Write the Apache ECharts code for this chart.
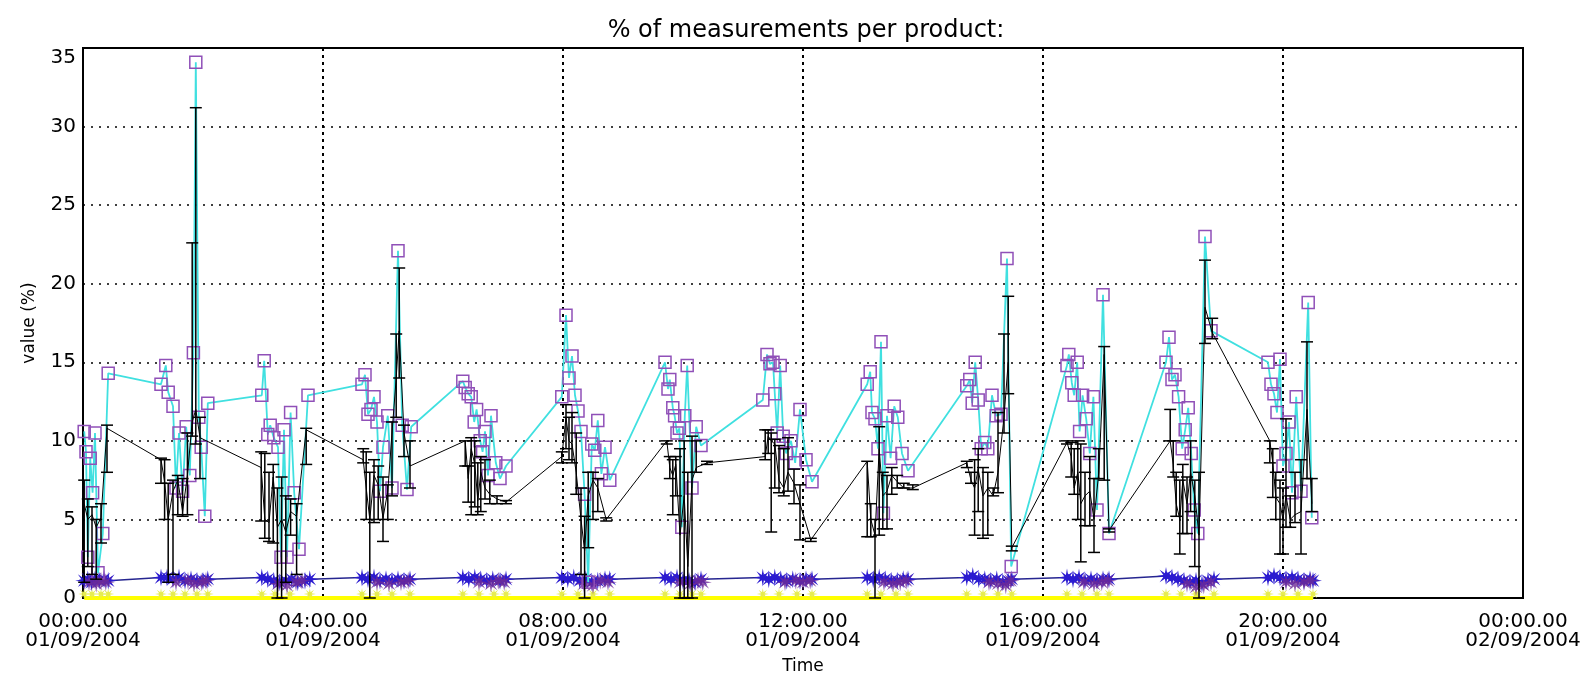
<!DOCTYPE html>
<html>
<head>
<meta charset="utf-8">
<script src="https://cdn.jsdelivr.net/npm/echarts@6/dist/echarts.min.js"></script>
<style>html,body{margin:0;padding:0;background:#fff;}#c{width:1594px;height:679px;}</style>
</head>
<body>
<div id="c"></div>
<script>
// ---- Data (time in hours from 01/09/2004 00:00) ----
const tickLabels = ['00:00.00\n01/09/2004','04:00.00\n01/09/2004','08:00.00\n01/09/2004','12:00.00\n01/09/2004','16:00.00\n01/09/2004','20:00.00\n01/09/2004','00:00.00\n02/09/2004'];
const yTickLabels = ['0','5','10','15','20','25','30','35'];

const cyanTime = [
 0.02,0.05,0.08,0.12,0.16,0.20,0.25,0.33,0.42,
 1.30,1.38,1.42,1.50,1.55,1.60,1.66,1.72,1.78,1.84,1.88,1.93,1.97,2.03,2.08,
 2.98,3.02,3.08,3.12,3.18,3.25,3.30,3.35,3.40,3.46,3.52,3.60,3.75,
 4.65,4.70,4.75,4.80,4.85,4.90,4.95,5.00,5.08,5.15,5.25,5.32,5.40,5.47,
 6.33,6.37,6.42,6.47,6.52,6.56,6.62,6.66,6.70,6.75,6.80,6.88,6.95,7.05,
 7.98,8.05,8.10,8.15,8.20,8.25,8.30,8.36,8.42,8.48,8.53,8.58,8.64,8.70,8.78,
 9.70,9.75,9.78,9.83,9.86,9.90,9.94,9.98,10.03,10.07,10.15,10.22,10.30,
 11.33,11.40,11.45,11.50,11.53,11.57,11.62,11.67,11.72,11.80,11.87,11.95,12.05,12.15,
 13.07,13.12,13.15,13.20,13.25,13.30,13.34,13.40,13.46,13.52,13.58,13.65,13.75,
 14.73,14.78,14.82,14.87,14.92,14.97,15.03,15.08,15.15,15.22,15.30,15.40,15.47,
 16.40,16.43,16.48,16.52,16.57,16.61,16.66,16.72,16.78,16.84,16.90,17.00,17.10,
 18.05,18.10,18.15,18.20,18.26,18.32,18.37,18.42,18.47,18.52,18.58,18.70,18.80,
 19.75,19.80,19.85,19.90,19.95,20.00,20.05,20.10,20.15,20.22,20.30,20.42,20.48
];
const cyanValue = [
 10.6,9.3,2.6,8.9,6.7,10.5,1.6,4.1,14.3,
 13.6,14.8,13.1,12.2,7.0,10.5,6.8,10.9,7.8,15.6,34.1,11.5,9.6,5.2,12.4,
 12.9,15.1,10.4,11.0,10.2,9.6,2.6,10.7,2.6,11.8,6.7,3.1,12.9,
 13.6,14.2,11.7,12.0,12.8,11.2,6.8,9.6,11.6,7.0,22.1,11.0,6.9,10.9,
 13.8,13.4,13.0,12.8,11.2,12.0,10.0,9.3,10.6,7.8,11.6,8.6,7.6,8.4,
 12.8,18.0,14.0,15.4,12.9,11.9,10.6,6.6,1.0,9.8,9.4,11.3,7.9,9.6,7.5,
 15.0,13.3,13.9,12.1,11.6,10.5,10.8,4.5,11.6,14.8,7.0,10.9,9.7,
 12.6,15.5,14.9,15.0,13.0,10.5,14.8,10.3,9.2,10.0,8.6,12.0,8.8,7.4,
 13.6,14.4,11.8,11.4,9.5,16.3,5.4,11.6,8.9,12.2,11.5,9.2,8.1,
 13.5,13.9,12.4,15.0,12.6,9.5,9.9,9.5,12.9,11.6,11.7,21.6,2.0,
 14.8,15.5,13.7,12.9,15.0,10.6,12.9,11.4,9.2,12.8,5.6,19.3,4.1,
 15.0,16.6,13.9,14.2,12.8,9.5,10.7,12.1,9.2,5.6,4.1,23.0,17.0,
 15.0,13.6,13.0,11.8,15.2,8.4,9.2,11.2,6.7,12.8,6.8,18.8,5.1
];

const blackTime = [
 0.02,0.08,0.15,0.22,0.30,0.40,
 1.30,1.36,1.42,1.50,1.58,1.66,1.74,1.82,1.88,1.95,
 2.97,3.03,3.10,3.17,3.24,3.31,3.38,3.46,3.56,3.72,
 4.67,4.72,4.78,4.85,4.92,5.00,5.08,5.15,5.22,5.27,5.35,5.45,
 6.37,6.42,6.47,6.53,6.58,6.63,6.70,6.78,6.90,7.05,
 7.98,8.05,8.10,8.15,8.22,8.30,8.36,8.42,8.50,8.58,8.72,
 9.73,9.78,9.83,9.88,9.95,10.02,10.08,10.15,10.22,10.40,
 11.37,11.42,11.47,11.53,11.60,11.68,11.75,11.85,11.95,12.13,
 13.07,13.13,13.20,13.27,13.33,13.40,13.48,13.57,13.68,13.83,
 14.73,14.80,14.86,14.92,15.00,15.08,15.17,15.25,15.35,15.42,15.48,
 16.40,16.47,16.52,16.58,16.63,16.70,16.78,16.85,16.93,17.02,17.10,
 18.12,18.17,18.22,18.28,18.33,18.40,18.46,18.53,18.60,18.70,18.82,
 19.78,19.83,19.88,19.95,20.00,20.05,20.12,20.20,20.30,20.40,20.48
];
const blackMean = [
 6.0,5.0,5.3,4.5,5.1,10.8,
 8.8,7.4,5.0,6.8,7.5,5.5,7.8,11.2,12.0,10.2,
 8.3,5.0,4.8,7.7,4.5,5.0,4.2,5.5,5.2,10.7,
 8.8,7.0,5.0,7.8,7.2,5.1,6.8,10.5,14.0,17.0,10.5,8.4,
 10.0,7.6,9.5,8.5,6.2,8.0,7.0,6.6,6.3,6.1,
 9.0,11.5,10.0,9.8,8.0,5.0,3.0,6.5,7.5,7.0,5.0,
 10.0,8.3,7.8,8.5,4.0,6.5,2.0,7.5,8.3,8.6,
 9.0,10.3,10.0,9.8,7.5,7.0,8.0,7.3,6.0,3.7,
 8.7,5.0,4.0,9.5,6.5,6.8,7.8,7.4,7.0,7.0,
 8.6,7.5,7.0,8.2,6.5,7.0,6.5,8.0,11.5,15.0,3.2,
 9.9,9.0,7.0,8.0,6.0,6.5,6.8,5.0,8.0,15.5,4.3,
 10.0,8.5,6.0,5.0,7.5,6.0,8.0,6.5,4.0,18.5,16.9,
 10.0,8.6,6.4,6.0,5.0,6.5,5.0,5.3,5.5,12.0,6.0
];
const blackLow = [
 1.0,2.0,1.5,1.2,3.5,8.0,
 7.3,5.0,1.0,1.5,5.3,5.2,5.3,10.3,9.8,7.6,
 4.9,3.8,3.6,3.5,0.0,0.0,1.0,4.0,1.5,8.5,
 8.6,5.0,0.0,4.8,5.0,3.6,5.0,6.5,11.5,14.0,9.0,7.0,
 8.4,6.1,5.3,5.8,5.3,5.5,6.3,6.0,6.0,6.0,
 8.6,9.5,8.8,8.6,6.6,1.5,0.0,3.2,5.0,5.5,4.9,
 9.8,7.6,5.3,6.5,0.0,0.0,0.0,0.0,8.0,8.5,
 8.8,9.2,4.2,7.0,6.7,6.5,6.8,6.0,3.7,3.6,
 3.9,3.9,0.0,4.0,4.4,4.4,6.6,7.0,7.0,6.9,
 8.3,7.3,4.0,5.5,3.8,4.0,6.5,6.7,10.5,13.0,3.0,
 9.8,7.7,6.6,5.0,2.3,4.6,4.6,2.9,7.6,7.5,4.2,
 10.0,7.7,5.2,2.8,4.1,4.1,5.5,2.0,0.0,16.2,16.5,
 8.6,6.4,5.0,2.8,2.8,4.5,4.5,4.8,2.8,7.6,5.5
];
const blackHigh = [
 7.5,6.3,5.8,5.0,6.0,11.0,
 8.9,8.8,7.3,7.5,7.8,7.6,10.5,22.6,31.2,11.5,
 9.3,9.2,8.0,8.5,7.0,7.7,6.5,6.3,6.0,10.8,
 9.5,9.3,8.0,8.8,8.4,7.7,7.2,11.2,16.8,21.0,11.0,10.0,
 10.0,8.4,10.2,10.0,8.6,9.0,8.8,7.5,6.5,6.2,
 9.3,12.3,11.5,11.8,10.5,7.0,5.2,8.0,8.0,7.6,5.1,
 10.0,9.0,8.8,9.0,9.5,10.0,8.0,10.3,10.0,8.7,
 10.7,10.7,10.5,10.1,9.7,9.5,10.2,8.2,7.2,3.8,
 8.7,6.0,5.0,10.9,8.0,7.8,8.3,7.8,7.3,7.2,
 8.7,8.0,8.8,9.5,8.3,8.0,7.0,11.8,16.8,19.2,3.3,
 10.0,9.9,9.5,10.0,9.8,8.0,9.0,7.6,9.5,16.0,4.4,
 12.0,10.0,8.0,7.5,8.5,7.7,10.0,7.5,8.0,21.5,17.8,
 10.0,9.5,8.0,7.5,7.0,11.4,6.5,8.0,8.8,16.3,7.6
];

const blueTime = [
 0.02,0.08,0.14,0.20,0.27,0.35,0.42,
 1.30,1.40,1.50,1.60,1.70,1.80,1.90,2.00,2.08,
 2.98,3.08,3.18,3.28,3.38,3.48,3.58,3.70,3.78,
 4.65,4.75,4.85,4.95,5.05,5.15,5.25,5.35,5.45,
 6.33,6.43,6.53,6.63,6.73,6.83,6.95,7.05,
 7.98,8.08,8.18,8.28,8.38,8.48,8.58,8.70,8.78,
 9.70,9.80,9.90,10.00,10.10,10.20,10.30,
 11.33,11.43,11.53,11.63,11.73,11.83,11.95,12.05,12.15,
 13.07,13.17,13.27,13.37,13.47,13.57,13.67,13.75,
 14.73,14.83,14.93,15.03,15.13,15.23,15.33,15.42,15.48,
 16.40,16.50,16.60,16.70,16.80,16.90,17.00,17.10,
 18.05,18.15,18.25,18.35,18.45,18.55,18.65,18.75,18.85,
 19.75,19.85,19.95,20.05,20.15,20.25,20.35,20.45,20.50
];
const blueValue = [
 1.1,1.2,1.0,1.2,1.1,1.2,1.1,
 1.3,1.3,1.2,1.3,1.1,1.2,1.1,1.1,1.2,
 1.3,1.2,1.1,1.0,1.1,1.2,1.0,1.1,1.2,
 1.3,1.2,1.3,1.1,1.2,1.1,1.2,1.1,1.2,
 1.3,1.2,1.3,1.2,1.1,1.2,1.1,1.2,
 1.3,1.2,1.3,1.1,1.2,1.0,1.1,1.2,1.2,
 1.3,1.2,1.3,1.1,1.1,1.0,1.2,
 1.3,1.2,1.3,1.2,1.1,1.2,1.1,1.2,1.2,
 1.3,1.2,1.3,1.2,1.1,1.1,1.2,1.2,
 1.3,1.4,1.2,1.2,1.1,1.2,1.0,1.1,1.2,
 1.3,1.2,1.3,1.1,1.2,1.1,1.2,1.2,
 1.4,1.3,1.2,1.1,1.0,1.1,0.9,1.1,1.2,
 1.3,1.4,1.3,1.2,1.3,1.2,1.1,1.2,1.1
];

const purpleTime = [
 0.10,0.22,0.30,0.38,
 1.55,1.75,1.85,1.98,2.05,
 3.25,3.40,3.55,3.65,
 4.90,5.10,5.30,5.42,
 6.60,6.80,6.92,7.02,
 8.35,8.50,8.62,8.75,
 9.95,10.12,10.25,10.33,
 11.70,11.88,12.00,12.12,
 13.35,13.50,13.62,13.72,
 15.10,15.25,15.38,15.46,
 16.68,16.85,16.98,17.08,
 18.40,18.55,18.68,18.80,
 20.05,20.20,20.35,20.46
];
const purpleValue = [
 1.0,0.9,1.1,1.0,
 1.0,1.1,0.9,1.0,1.1,
 0.9,0.8,1.0,1.1,
 1.0,0.9,1.0,1.1,
 1.0,0.9,1.1,1.0,
 0.9,0.8,1.1,1.0,
 1.0,0.9,1.1,1.0,
 1.0,1.1,1.0,1.1,
 1.0,0.9,1.0,1.1,
 1.0,0.9,0.8,1.1,
 1.0,0.9,1.0,1.1,
 0.9,0.7,0.8,1.0,
 1.0,0.9,1.0,1.1
];

const yellowTime = [
 0.02,0.15,0.30,0.42,
 1.30,1.50,1.70,1.90,2.08,
 2.98,3.20,3.45,3.78,
 4.65,4.90,5.15,5.45,
 6.33,6.60,6.85,7.05,
 7.98,8.25,8.50,8.78,
 9.70,9.95,10.15,10.30,
 11.33,11.60,11.90,12.15,
 13.07,13.30,13.55,13.75,
 14.73,15.00,15.25,15.48,
 16.40,16.65,16.90,17.10,
 18.05,18.30,18.55,18.85,
 19.75,20.00,20.25,20.50
];
const yellowValue = [
 0,0,0,0, 0,0,0,0,0, 0,0,0,0, 0,0,0,0, 0,0,0,0, 0,0,0,0, 0,0,0,0,
 0,0,0,0, 0,0,0,0, 0,0,0,0, 0,0,0,0, 0,0,0,0, 0,0,0,0
];

// ---- Rendering ----
function starPath(n, ro, ri) {
  let d = '';
  for (let k = 0; k < 2 * n; k++) {
    const r = k % 2 === 0 ? ro : ri;
    const a = Math.PI * k / n;
    const x = (r * Math.sin(a)).toFixed(2), y = (-r * Math.cos(a)).toFixed(2);
    d += (k === 0 ? 'M' : 'L') + x + ',' + y + ' ';
  }
  return 'path://' + d + 'Z';
}
const asterisk = starPath(8, 10, 3.2);

const zip = (a, b) => a.map((v, i) => [v, b[i]]);
const FONT = 'DejaVu Sans';

const chart = echarts.init(document.getElementById('c'), null, {renderer: 'canvas'});
chart.setOption({
  backgroundColor: '#fff',
  animation: false,
  title: {
    text: '% of measurements per product:',
    left: 801, top: 14, textAlign: 'center',
    textStyle: {fontFamily: FONT, fontSize: 24, fontWeight: 'normal', color: '#000'}
  },
  grid: {
    left: 83, right: 71, top: 48, bottom: 81,
    outerBoundsMode: 'none', containLabel: false,
    show: true, borderColor: '#000', borderWidth: 2, backgroundColor: 'transparent'
  },
  xAxis: {
    type: 'value', min: 0, max: 24, interval: 4,
    name: 'Time', nameLocation: 'middle', nameGap: 60,
    nameTextStyle: {fontFamily: FONT, fontSize: 17, color: '#000'},
    axisLine: {show: false}, axisTick: {show: false},
    axisLabel: {
      fontFamily: FONT, fontSize: 20, color: '#000', margin: 14, lineHeight: 19,
      formatter: v => tickLabels[Math.round(v / 4)]
    },
    splitLine: {show: true, lineStyle: {color: '#000', width: 2, type: [3, 4]}}
  },
  yAxis: {
    type: 'value', min: 0, max: 35, interval: 5,
    name: 'value (%)', nameLocation: 'middle', nameGap: 45, nameRotate: 90,
    nameTextStyle: {fontFamily: FONT, fontSize: 17, color: '#000'},
    axisLine: {show: false}, axisTick: {show: false},
    axisLabel: {
      fontFamily: FONT, fontSize: 20, color: '#000', margin: 7,
      verticalAlignMaxLabel: 'top',
      formatter: v => yTickLabels[Math.round(v / 5)]
    },
    splitLine: {show: true, lineStyle: {color: '#000', width: 1.5, type: [2, 6]}}
  },
  series: [
    {
      name: 'yellow', type: 'line', z: 2,
      data: zip(yellowTime, yellowValue),
      lineStyle: {color: '#ffff00', width: 4},
      symbol: asterisk, symbolSize: 12, symbolOffset: [0, -4],
      itemStyle: {color: '#e6ec50'}
    },
    {
      name: 'blue', type: 'line', z: 3,
      data: zip(blueTime, blueValue),
      lineStyle: {color: '#262690', width: 1.5},
      symbol: asterisk, symbolSize: 18,
      itemStyle: {color: '#2b1bd0'}
    },
    {
      name: 'purple', type: 'scatter', z: 4,
      data: zip(purpleTime, purpleValue),
      symbol: asterisk, symbolSize: 18,
      itemStyle: {color: '#6e2a96'}
    },
    {
      name: 'cyan', type: 'line', z: 5,
      data: zip(cyanTime, cyanValue),
      lineStyle: {color: '#40e0e0', width: 1.8},
      symbol: 'rect', symbolSize: 12, showAllSymbol: true,
      itemStyle: {color: 'rgba(255,255,255,0)', borderColor: '#9050b8', borderWidth: 1.5}
    },
    {
      name: 'black', type: 'line', z: 6,
      data: zip(blackTime, blackMean),
      lineStyle: {color: '#000', width: 1},
      symbol: 'none'
    },
    {
      name: 'blackErr', type: 'custom', z: 7,
      data: blackTime.map((t, i) => [t, blackLow[i], blackHigh[i]]),
      encode: {x: 0, y: [1, 2]},
      renderItem: function (params, api) {
        const x = api.value(0);
        const lo = api.coord([x, api.value(1)]);
        const hi = api.coord([x, api.value(2)]);
        const hw = 6;
        const st = {stroke: '#000', lineWidth: 1.5};
        return {
          type: 'group',
          children: [
            {type: 'line', shape: {x1: lo[0], y1: lo[1], x2: hi[0], y2: hi[1]}, style: st},
            {type: 'line', shape: {x1: lo[0] - hw, y1: lo[1], x2: lo[0] + hw, y2: lo[1]}, style: st},
            {type: 'line', shape: {x1: hi[0] - hw, y1: hi[1], x2: hi[0] + hw, y2: hi[1]}, style: st}
          ]
        };
      }
    }
  ]
});
</script>
</body>
</html>
